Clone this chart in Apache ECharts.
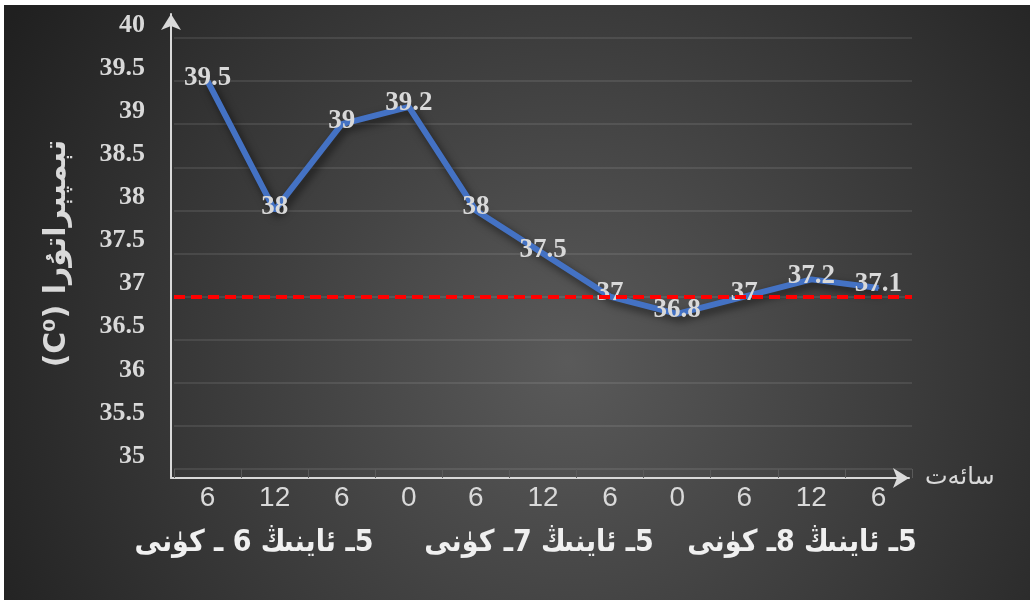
<!DOCTYPE html>
<html>
<head>
<meta charset="utf-8">
<script src="https://cdn.jsdelivr.net/npm/echarts@6/dist/echarts.min.js"></script>
<style>
  html, body { margin: 0; padding: 0; background: #ffffff; }
  #chart { position: absolute; left: 4px; top: 5px; width: 1026px; height: 595px; }
</style>
</head>
<body>
<div id="chart"></div>
<script type="text/javascript">
    // hours along the x axis
    var hours = ['6', '12', '6', '0', '6', '12', '6', '0', '6', '12', '6'];
    // body temperature readings
    var temps = [39.5, 38, 39, 39.2, 38, 37.5, 37, 36.8, 37, 37.2, 37.1];
    // normal temperature reference line
    var normalTemp = [37];
    // day groups under the hours (left to right)
    var dayLabels = ['5ـ ئاينىڭ 6 ـ كۈنى', '5ـ ئاينىڭ 7ـ كۈنى', '5ـ ئاينىڭ 8ـ كۈنى'];
    var dayCenters = [250, 535, 798];
    var yTitle = 'تېمپېراتۇرا (C⁰)';
    var xTitle = 'سائەت';

    var RLE = '\u202B', PDF = '\u202C';
    var labelColor = '#d9d9d9';
    var serif = "'Liberation Serif', 'Times New Roman', serif";
    var arabic = "'DejaVu Sans', sans-serif";

    var dom = document.getElementById('chart');
    var myChart = echarts.init(dom);

    var option = {
        backgroundColor: {
            type: 'radial', x: 0.55, y: 0.6, r: 1.1,
            colorStops: [
                {offset: 0, color: '#5a5a5a'},
                {offset: 1, color: '#202020'}
            ]
        },
        animation: false,
        grid: [
            {left: 170, top: 33, right: 118, bottom: 131},
            {left: 167, top: 9, right: 121, bottom: 122}
        ],
        xAxis: [
            {
                type: 'category',
                gridIndex: 0,
                data: hours,
                offset: 9,
                axisLine: {show: false},
                axisTick: {show: true, inside: true, length: 9, lineStyle: {color: '#5a5a5a', width: 1}},
                axisLabel: {
                    margin: 6,
                    color: labelColor,
                    fontSize: 28,
                    fontFamily: "'Liberation Sans Narrow', 'Liberation Sans', sans-serif"
                },
                splitLine: {show: false}
            },
            {
                type: 'value',
                gridIndex: 1,
                min: 0, max: 1,
                axisLine: {
                    show: true,
                    symbol: ['none', 'arrow'],
                    symbolSize: [15, 16],
                    lineStyle: {color: labelColor, width: 2}
                },
                axisTick: {show: false},
                axisLabel: {show: false},
                splitLine: {show: false},
                name: xTitle,
                nameLocation: 'end',
                nameGap: 16,
                nameTextStyle: {color: labelColor, fontSize: 24, fontFamily: arabic, verticalAlign: 'middle'}
            }
        ],
        yAxis: [
            {
                type: 'value',
                gridIndex: 0,
                min: 35, max: 40, interval: 0.5,
                axisLine: {show: false},
                axisTick: {show: false},
                axisLabel: {
                    margin: 29,
                    color: labelColor,
                    fontSize: 26,
                    fontWeight: 'bold',
                    fontFamily: serif,
                    verticalAlign: 'bottom'
                },
                splitLine: {lineStyle: {color: 'rgba(255,255,255,0.09)', width: 2}},
                name: RLE + yTitle + PDF,
                nameLocation: 'middle',
                nameRotate: 90,
                nameGap: 102,
                nameTextStyle: {color: labelColor, fontSize: 30, fontWeight: 'bold', fontFamily: arabic}
            },
            {
                type: 'value',
                gridIndex: 1,
                min: 0, max: 1,
                axisLine: {
                    show: true,
                    symbol: ['none', 'arrow'],
                    symbolSize: [15, 16],
                    lineStyle: {color: labelColor, width: 2}
                },
                axisTick: {show: false},
                axisLabel: {show: false},
                splitLine: {show: false}
            }
        ],
        graphic: dayLabels.map(function (t, i) {
            return {
                type: 'text',
                x: dayCenters[i],
                y: 538,
                style: {
                    text: RLE + t + PDF,
                    fill: '#f0f0f0',
                    font: "bold 30px 'DejaVu Sans Condensed', 'DejaVu Sans', sans-serif",
                    textAlign: 'center',
                    textVerticalAlign: 'middle'
                }
            };
        }),
        series: [
            {
                name: 'temperature',
                type: 'line',
                xAxisIndex: 0,
                yAxisIndex: 0,
                data: temps,
                symbol: 'circle',
                symbolSize: 2,
                itemStyle: {color: '#4472c4'},
                lineStyle: {
                    color: '#4472c4',
                    width: 6,
                    shadowColor: 'rgba(0,0,0,0.6)',
                    shadowBlur: 8,
                    shadowOffsetX: 3,
                    shadowOffsetY: 4
                },
                label: {
                    show: true,
                    position: 'top',
                    distance: -11,
                    color: labelColor,
                    fontSize: 27,
                    fontWeight: 'bold',
                    fontFamily: serif
                },
                markLine: {
                    silent: true,
                    symbol: 'none',
                    label: {show: false},
                    lineStyle: {color: '#ff0000', width: 4, type: [11, 6]},
                    data: normalTemp.map(function (v) { return {yAxis: v}; })
                },
                z: 3
            }
        ]
    };

    if (option && typeof option === 'object') {
        myChart.setOption(option, true);
    }
</script>
</body>
</html>
